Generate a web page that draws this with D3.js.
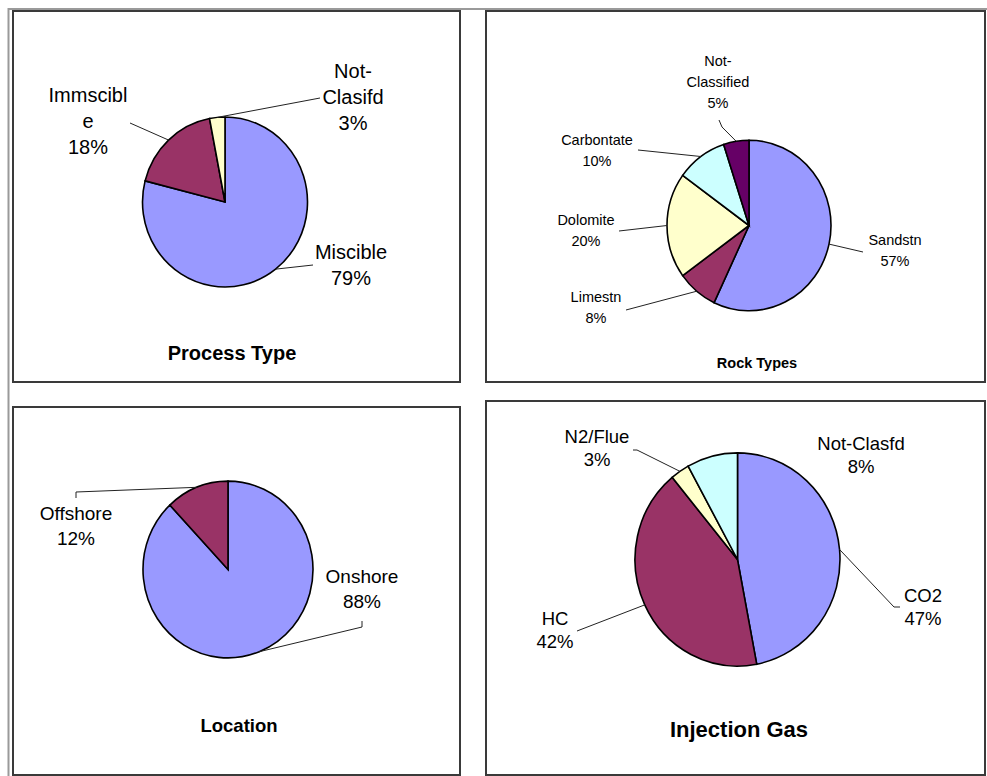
<!DOCTYPE html>
<html>
<head>
<meta charset="utf-8">
<script src="https://cdn.jsdelivr.net/npm/d3@7"></script>
<style>
  html, body { margin: 0; padding: 0; background: #fff; }
  svg { display: block; }
  text { font-family: "Liberation Sans", Arial, sans-serif; fill: #000; }
</style>
</head>
<body>
<svg id="chart" width="987" height="776"></svg>
<script>
// ---- data ----
const processCategories = ["Miscible", "Immscible", "Not-Clasifd"];
const processValues = [79, 18, 3];

const rockCategories = ["Sandstn", "Limestn", "Dolomite", "Carbontate", "Not-Classified"];
const rockValues = [57, 8, 20, 10, 5];

const locationCategories = ["Onshore", "Offshore"];
const locationValues = [88, 12];

const gasCategories = ["CO2", "HC", "N2/Flue", "Not-Clasfd"];
const gasValues = [47, 42, 3, 8];

const chartTitles = ["Process Type", "Rock Types", "Location", "Injection Gas"];

// ---- palette ----
const colorByName = {
  "Miscible": "#9999FF", "Immscible": "#993366", "Not-Clasifd": "#FFFFCC",
  "Sandstn": "#9999FF", "Limestn": "#993366", "Dolomite": "#FFFFCC",
  "Carbontate": "#CCFFFF", "Not-Classified": "#660066",
  "Onshore": "#9999FF", "Offshore": "#993366",
  "CO2": "#9999FF", "HC": "#993366", "N2/Flue": "#FFFFCC", "Not-Clasfd": "#CCFFFF"
};

// ---- layout of each panel ----
const panels = [
  {
    box: [13, 11, 460, 382],
    cats: processCategories, vals: processValues, title: chartTitles[0],
    cx: 225, cy: 202, r: 82.5, sy: 1.03, font: 20,
    titlePos: [232, 360], titleFont: 20, lineH: 26,
    labels: {
      "Miscible":    { x: 351, y: 259, lines: ["Miscible"], lead: [[313, 265]] },
      "Immscible":   { x: 88,  y: 102, lines: ["Immscibl", "e"], lead: [[130, 123]] },
      "Not-Clasifd": { x: 353, y: 78,  lines: ["Not-", "Clasifd"], lead: [[320, 98]] }
    }
  },
  {
    box: [486, 11, 985, 382],
    cats: rockCategories, vals: rockValues, title: chartTitles[1],
    cx: 749, cy: 225.5, r: 82, sy: 1.04, font: 14.5,
    titlePos: [757, 368], titleFont: 14.5, lineH: 21,
    labels: {
      "Sandstn":        { x: 895, y: 245, lines: ["Sandstn"], lead: [[863, 252]] },
      "Limestn":        { x: 596, y: 302, lines: ["Limestn"], lead: [[626, 310]] },
      "Dolomite":       { x: 586, y: 225, lines: ["Dolomite"], lead: [[619, 231]] },
      "Carbontate":     { x: 597, y: 145, lines: ["Carbontate"], lead: [[638, 150]] },
      "Not-Classified": { x: 718, y: 66,  lines: ["Not-", "Classified"], lead: [[719, 120], [722, 127]] }
    }
  },
  {
    box: [13, 407, 460, 775],
    cats: locationCategories, vals: locationValues, title: chartTitles[2],
    cx: 228, cy: 569.5, r: 85, sy: 1.04, font: 19,
    titlePos: [239, 732], titleFont: 18.5, lineH: 25,
    labels: {
      "Onshore":  { x: 362, y: 583, lines: ["Onshore"], lead: [[362, 621], [362, 627]] },
      "Offshore": { x: 76,  y: 520, lines: ["Offshore"], lead: [[76, 498], [76, 492]] }
    }
  },
  {
    box: [486, 401, 985, 775],
    cats: gasCategories, vals: gasValues, title: chartTitles[3],
    cx: 737.5, cy: 559.5, r: 102.5, sy: 1.04, font: 18.5,
    titlePos: [739, 737], titleFont: 22, lineH: 23,
    labels: {
      "CO2":        { x: 923, y: 602, lines: ["CO2"], lead: [[900, 607], [894, 607]] },
      "HC":         { x: 555, y: 625, lines: ["HC"], lead: [[577, 631]] },
      "N2/Flue":    { x: 597, y: 443, lines: ["N2/Flue"], lead: [[633, 450], [637, 450]] },
      "Not-Clasfd": { x: 861, y: 450, lines: ["Not-Clasfd"], lead: null }
    }
  }
];

const svg = d3.select("#chart");

// outer page frame
svg.append("rect")
  .attr("x", 8.5).attr("y", 9).attr("width", 990).attr("height", 780)
  .attr("fill", "none").attr("stroke", "#9a9a9a").attr("stroke-width", 2);

const pie = d3.pie().sort(null).value(d => d.value);

panels.forEach(p => {
  const g = svg.append("g");

  // panel frame
  const [x0, y0, x1, y1] = p.box;
  g.append("rect")
    .attr("x", x0).attr("y", y0).attr("width", x1 - x0).attr("height", y1 - y0)
    .attr("fill", "#fff").attr("stroke", "#3a3a3a").attr("stroke-width", 2);

  const data = p.cats.map((c, i) => ({ name: c, value: p.vals[i] }));
  const arcs = pie(data);
  const arc = d3.arc().innerRadius(0).outerRadius(p.r);

  // slices
  g.append("g")
    .attr("transform", `translate(${p.cx},${p.cy}) scale(1,${p.sy})`)
    .selectAll("path")
    .data(arcs)
    .join("path")
    .attr("d", arc)
    .attr("fill", d => colorByName[d.data.name])
    .attr("stroke", "#000")
    .attr("stroke-width", 1.6)
    .attr("vector-effect", "non-scaling-stroke");

  // leader lines from each label to the middle of its slice rim
  const line = d3.line();
  arcs.forEach(a => {
    const lab = p.labels[a.data.name];
    if (!lab || !lab.lead) return;
    const mid = (a.startAngle + a.endAngle) / 2;
    const rim = [p.cx + p.r * Math.sin(mid), p.cy - p.r * p.sy * Math.cos(mid)];
    g.append("path")
      .attr("d", line(lab.lead.concat([rim])))
      .attr("fill", "none")
      .attr("stroke", "#222")
      .attr("stroke-width", 1);
  });

  // category labels with percentages
  arcs.forEach(a => {
    const lab = p.labels[a.data.name];
    const lines = lab.lines.concat([a.data.value + "%"]);
    const t = g.append("text")
      .attr("text-anchor", "middle")
      .attr("font-size", p.font);
    lines.forEach((s, i) => {
      t.append("tspan").attr("x", lab.x).attr("y", lab.y + i * p.lineH).text(s);
    });
  });

  // chart title
  g.append("text")
    .attr("x", p.titlePos[0]).attr("y", p.titlePos[1])
    .attr("text-anchor", "middle")
    .attr("font-size", p.titleFont)
    .attr("font-weight", "bold")
    .text(p.title);
});
</script>
</body>
</html>
